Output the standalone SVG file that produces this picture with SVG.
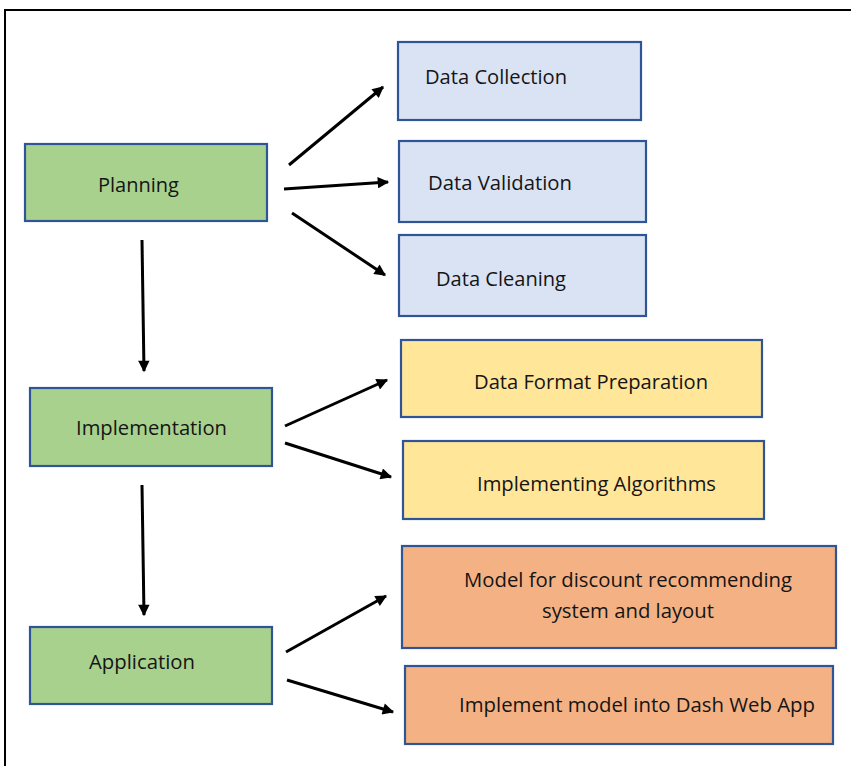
<svg xmlns="http://www.w3.org/2000/svg" width="851" height="766" viewBox="0 0 851 766">
<defs>
<marker id="ah" viewBox="0 0 10 10" refX="9" refY="5" markerWidth="4.2" markerHeight="3.8" orient="auto" markerUnits="strokeWidth">
<path d="M0,0 L10,5 L0,10 z" fill="#000"/>
</marker>
<style>
.box{stroke:#2F5597;stroke-width:2.2}
.g{fill:#A9D18E}.b{fill:#DAE3F3}.y{fill:#FFE699}.o{fill:#F4B183}
text{font-family:"Open Sans","Liberation Sans",sans-serif;font-size:20px;fill:#151515}
.c line{stroke:#000;stroke-width:3;marker-end:url(#ah)}
</style>
</defs>
<rect width="851" height="766" fill="#fff"/>
<path d="M5,770 V10 H856" fill="none" stroke="#000" stroke-width="2"/>
<g id="planning"><rect class="box g" x="25" y="144" width="242" height="77"/><text x="98" y="192" textLength="81" lengthAdjust="spacingAndGlyphs">Planning</text></g>
<g id="data-collection"><rect class="box b" x="398" y="42" width="243" height="78"/><text x="425" y="84" textLength="142" lengthAdjust="spacingAndGlyphs">Data Collection</text></g>
<g id="data-validation"><rect class="box b" x="399" y="141" width="247" height="81"/><text x="428" y="190" textLength="144" lengthAdjust="spacingAndGlyphs">Data Validation</text></g>
<g id="data-cleaning"><rect class="box b" x="399" y="235" width="247" height="81"/><text x="436" y="286" textLength="130" lengthAdjust="spacingAndGlyphs">Data Cleaning</text></g>
<g id="implementation"><rect class="box g" x="30" y="388" width="242" height="78"/><text x="76" y="435" textLength="151" lengthAdjust="spacingAndGlyphs">Implementation</text></g>
<g id="data-format"><rect class="box y" x="401" y="340" width="361" height="77"/><text x="474" y="389" textLength="234" lengthAdjust="spacingAndGlyphs">Data Format Preparation</text></g>
<g id="implementing-algorithms"><rect class="box y" x="403" y="441" width="361" height="78"/><text x="477" y="491" textLength="239" lengthAdjust="spacingAndGlyphs">Implementing Algorithms</text></g>
<g id="application"><rect class="box g" x="30" y="627" width="242" height="77"/><text x="89" y="669" textLength="106" lengthAdjust="spacingAndGlyphs">Application</text></g>
<g id="model"><rect class="box o" x="402" y="546" width="434" height="102"/><text x="464" y="587" textLength="328" lengthAdjust="spacingAndGlyphs">Model for discount recommending</text><text x="542" y="618" textLength="172" lengthAdjust="spacingAndGlyphs">system and layout</text></g>
<g id="dash"><rect class="box o" x="405" y="666" width="428" height="78"/><text x="459" y="712" textLength="356" lengthAdjust="spacingAndGlyphs">Implement model into Dash Web App</text></g>
<g id="connectors" class="c">
<line x1="289" y1="165" x2="383" y2="87"/>
<line x1="284" y1="189" x2="388" y2="182"/>
<line x1="292" y1="213" x2="385" y2="275"/>
<line x1="142" y1="240" x2="144" y2="371"/>
<line x1="142" y1="485" x2="144" y2="615"/>
<line x1="285" y1="426" x2="387" y2="380"/>
<line x1="285" y1="443" x2="391" y2="477"/>
<line x1="286" y1="652" x2="386" y2="596"/>
<line x1="287" y1="680" x2="393" y2="712"/>
</g>
</svg>
